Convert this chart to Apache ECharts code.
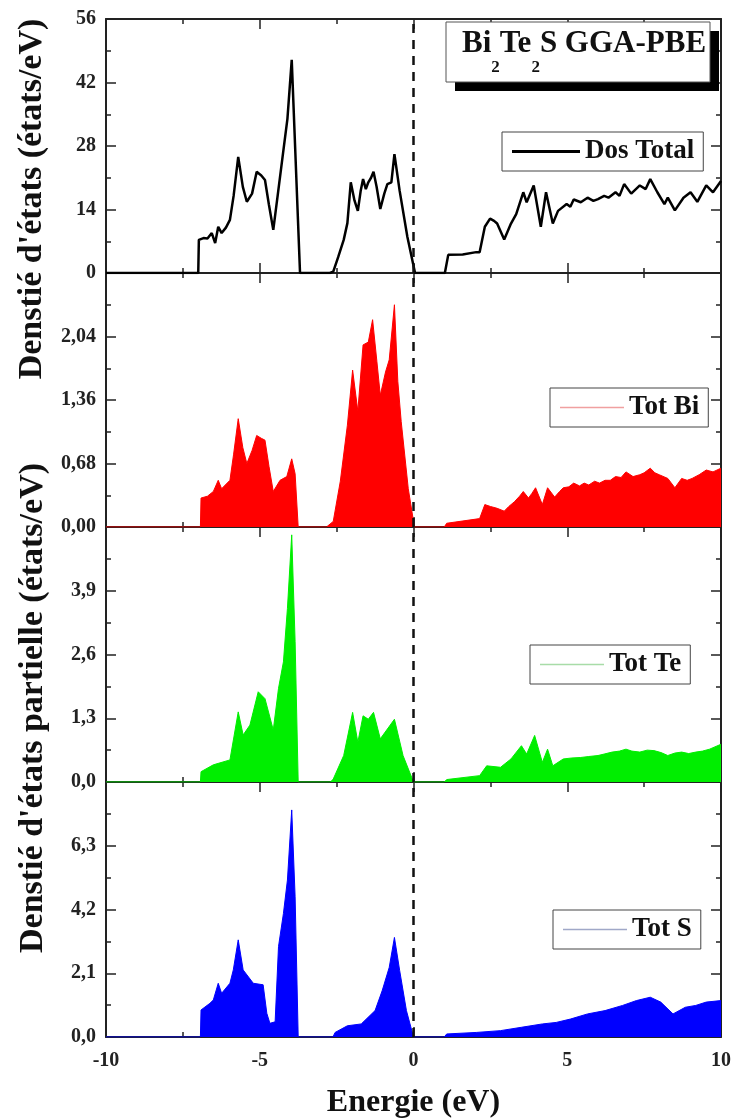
<!DOCTYPE html>
<html>
<head>
<meta charset="utf-8">
<script src="https://cdn.jsdelivr.net/npm/echarts@6/dist/echarts.min.js"></script>
<style>
html,body{margin:0;padding:0;background:#fff;}
#chart{width:735px;height:1120px;}
</style>
</head>
<body>
<div id="chart"></div>
<script>
// ---------- DATA (energy in eV, density of states) ----------
const dosTotal = [[-10,0],[-7.0,0],[-6.98,7.3],[-6.83,7.7],[-6.7,7.6],[-6.56,8.8],[-6.45,6.6],[-6.35,10.2],[-6.24,8.8],[-6.1,10.0],[-5.97,11.7],[-5.85,17],[-5.70,25.6],[-5.55,19],[-5.42,15.7],[-5.25,17.5],[-5.10,22.3],[-4.95,21.5],[-4.83,20.5],[-4.7,15],[-4.56,9.5],[-4.4,18],[-4.23,27.1],[-4.1,34],[-3.96,47],[-3.69,0],[-2.72,0],[-2.61,0.3],[-2.45,3.5],[-2.27,7.3],[-2.15,11],[-2.04,20],[-1.92,16],[-1.81,13.7],[-1.72,18],[-1.64,20.7],[-1.55,18.5],[-1.47,20],[-1.38,21],[-1.30,22.3],[-1.2,19],[-1.08,14.1],[-0.95,17.5],[-0.85,19.6],[-0.72,20],[-0.62,26.2],[-0.45,18.1],[-0.2,8],[0.05,0],[1.02,0],[1.13,4.0],[1.6,4.1],[2.04,4.6],[2.15,4.6],[2.32,10.2],[2.49,12],[2.62,11.5],[2.72,10.9],[2.95,7.4],[3.17,10.9],[3.34,13.0],[3.57,17.8],[3.68,15.6],[3.91,19.3],[4.14,10.2],[4.31,17.8],[4.53,10.9],[4.70,13.7],[4.98,15.2],[5.1,14.6],[5.21,16.2],[5.44,15.6],[5.66,16.6],[5.85,15.9],[6.00,16.3],[6.2,17.0],[6.34,16.6],[6.57,17.8],[6.7,17.0],[6.85,19.6],[7.08,17.5],[7.36,19.3],[7.55,18.5],[7.70,20.7],[7.93,17.8],[8.16,15.2],[8.27,16.6],[8.50,13.8],[8.78,16.6],[9.01,17.8],[9.23,15.7],[9.52,19.3],[9.74,17.8],[10.0,20.3]];

const totBi = [[-10,0],[-6.93,0],[-6.91,0.31],[-6.7,0.33],[-6.51,0.38],[-6.35,0.50],[-6.24,0.41],[-5.97,0.50],[-5.85,0.78],[-5.70,1.16],[-5.55,0.85],[-5.42,0.68],[-5.25,0.82],[-5.10,0.98],[-4.95,0.95],[-4.83,0.93],[-4.7,0.65],[-4.56,0.38],[-4.34,0.50],[-4.12,0.54],[-3.96,0.73],[-3.85,0.57],[-3.75,0],[-2.83,0],[-2.61,0.06],[-2.38,0.49],[-2.15,1.09],[-1.98,1.68],[-1.81,1.24],[-1.64,1.95],[-1.47,1.98],[-1.33,2.22],[-1.19,1.77],[-1.08,1.41],[-0.91,1.66],[-0.79,1.79],[-0.62,2.38],[-0.51,1.56],[-0.40,1.13],[-0.17,0.41],[0.03,0],[1.0,0],[1.08,0.04],[2.15,0.09],[2.32,0.24],[2.5,0.22],[2.72,0.20],[2.95,0.17],[3.1,0.22],[3.28,0.27],[3.45,0.33],[3.57,0.38],[3.74,0.31],[3.85,0.36],[3.97,0.42],[4.19,0.24],[4.36,0.42],[4.59,0.32],[4.75,0.38],[4.87,0.42],[5.05,0.43],[5.21,0.47],[5.4,0.44],[5.55,0.47],[5.7,0.45],[5.89,0.49],[6.05,0.47],[6.23,0.50],[6.4,0.50],[6.57,0.54],[6.75,0.53],[6.91,0.59],[7.14,0.54],[7.36,0.56],[7.5,0.58],[7.70,0.63],[7.85,0.58],[7.99,0.56],[8.27,0.52],[8.50,0.42],[8.72,0.52],[8.9,0.50],[9.06,0.52],[9.29,0.56],[9.52,0.61],[9.74,0.59],[10,0.63]];

const totTe = [[-10,0],[-6.93,0],[-6.91,0.21],[-6.51,0.35],[-5.97,0.45],[-5.70,1.43],[-5.54,0.96],[-5.32,1.16],[-5.05,1.84],[-4.83,1.70],[-4.56,1.06],[-4.39,1.91],[-4.23,2.45],[-4.10,3.54],[-3.96,5.04],[-3.85,2.86],[-3.75,0],[-2.7,0],[-2.61,0.06],[-2.27,0.54],[-1.98,1.42],[-1.81,0.81],[-1.64,1.35],[-1.47,1.28],[-1.30,1.42],[-1.08,0.88],[-0.85,1.08],[-0.62,1.28],[-0.34,0.54],[0.0,0],[1.0,0],[1.08,0.05],[2.15,0.13],[2.38,0.33],[2.83,0.30],[3.17,0.47],[3.51,0.74],[3.68,0.57],[3.94,0.95],[4.19,0.40],[4.36,0.67],[4.53,0.33],[4.87,0.47],[5.15,0.49],[5.44,0.50],[5.7,0.52],[6.00,0.54],[6.2,0.57],[6.46,0.61],[6.7,0.63],[6.91,0.67],[7.1,0.63],[7.36,0.61],[7.6,0.65],[7.82,0.64],[8.05,0.60],[8.27,0.54],[8.5,0.59],[8.72,0.61],[8.95,0.58],[9.18,0.61],[9.4,0.63],[9.63,0.67],[10,0.77]];

const totS = [[-10,0],[-6.93,0],[-6.91,0.89],[-6.62,1.11],[-6.51,1.22],[-6.35,1.77],[-6.24,1.44],[-5.97,1.77],[-5.86,2.21],[-5.70,3.2],[-5.54,2.21],[-5.21,1.77],[-4.89,1.72],[-4.77,0.78],[-4.67,0.45],[-4.50,0.5],[-4.39,2.98],[-4.23,4.07],[-4.10,5.17],[-3.96,7.48],[-3.85,4.62],[-3.75,0],[-2.62,0],[-2.55,0.15],[-2.15,0.37],[-1.70,0.43],[-1.25,0.87],[-1.02,1.52],[-0.79,2.29],[-0.62,3.28],[-0.45,2.19],[-0.23,0.87],[0.0,0],[1.0,0],[1.08,0.10],[2.04,0.15],[2.83,0.21],[3.51,0.32],[4.19,0.43],[4.64,0.48],[5.10,0.59],[5.66,0.76],[6.23,0.87],[6.80,1.04],[7.25,1.20],[7.70,1.31],[8.04,1.15],[8.44,0.76],[8.84,0.98],[9.18,1.04],[9.52,1.15],[10,1.20]];

const seriesNames = ['Dos Total','Tot Bi','Tot Te','Tot S'];
const seriesColors = ['#000000','#ff0000','#00ee00','#0000ff'];
const legendLineColors = ['#000000','#f0a0a0','#a8dca8','#a0a8c8'];
const yMaxes = [56, 2.72, 5.2, 8.4];
const ySteps = [14, 0.68, 1.3, 2.1];
const yDecimals = [0, 2, 1, 1];
const xMin = -10, xMax = 10, xStep = 5;
const xTitle = 'Energie (eV)';
const yTitleTop = "Denstié d'états (états/eV)";
const yTitleBottom = "Denstié d'états partielle (états/eV)";
const boxTitleRich = '{n|Bi}{s|2}{n|Te}{s|2}{n|S GGA-PBE}';

// ---------- LAYOUT ----------
const FONT = "'Liberation Serif','Times New Roman',serif";
const AX = '#222';
const tops = [19, 273, 527, 782];
const heights = [254, 254, 255, 255];
const legendPos = [[502,132],[550,388],[530,645],[553,910]];

const allData = [dosTotal, totBi, totTe, totS];

const grids = tops.map((t, i) => ({left: 106, right: 14, top: t, height: heights[i]}));
const xAxes = [], yAxes = [];
const tickCommon = {show: true, inside: true, length: 10, lineStyle: {color: AX, width: 1.5}};
const minorCommon = {show: true, splitNumber: 2, length: 5, lineStyle: {color: AX, width: 1.5}};
const lineCommon = {show: true, onZero: false, lineStyle: {color: AX, width: 2}};
for (let i = 0; i < 4; i++) {
  xAxes.push({
    type: 'value', gridIndex: i, min: xMin, max: xMax, interval: xStep, position: 'bottom',
    axisLine: lineCommon, axisTick: tickCommon, minorTick: minorCommon, splitLine: {show: false},
    axisLabel: {show: i === 3, margin: 14, color: '#222', fontFamily: FONT, fontWeight: 'bold', fontSize: 20},
    name: i === 3 ? xTitle : '', nameLocation: 'middle', nameGap: 50,
    nameTextStyle: {fontFamily: FONT, fontWeight: 'bold', fontSize: 32, color: '#111'}
  });
  xAxes.push({
    type: 'value', gridIndex: i, min: xMin, max: xMax, interval: xStep, position: 'top',
    axisLine: lineCommon, axisTick: tickCommon, minorTick: minorCommon, splitLine: {show: false},
    axisLabel: {show: false}
  });
  const dec = yDecimals[i];
  yAxes.push({
    type: 'value', gridIndex: i, min: 0, max: yMaxes[i], interval: ySteps[i], position: 'left',
    axisLine: lineCommon, axisTick: tickCommon, minorTick: minorCommon, splitLine: {show: false},
    axisLabel: {show: true, margin: 10, color: '#222', fontFamily: FONT, fontWeight: 'bold', fontSize: 20,
      showMaxLabel: i === 0, showMinLabel: true,
      formatter: v => v.toFixed(dec).replace('.', ',')}
  });
  yAxes.push({
    type: 'value', gridIndex: i, min: 0, max: yMaxes[i], interval: ySteps[i], position: 'right',
    axisLine: lineCommon, axisTick: tickCommon, minorTick: minorCommon, splitLine: {show: false},
    axisLabel: {show: false}
  });
}

const series = allData.map((d, i) => ({
  type: 'line', name: seriesNames[i], xAxisIndex: 2 * i, yAxisIndex: 2 * i,
  data: d, symbol: 'none', showSymbol: false, animation: false,
  lineStyle: {color: seriesColors[i], width: i === 0 ? 2.5 : 1},
  itemStyle: {color: seriesColors[i]},
  areaStyle: i === 0 ? undefined : {color: seriesColors[i], opacity: 1},
  z: 2,
  markLine: {silent: true, symbol: 'none', animation: false, label: {show: false},
    lineStyle: {type: [9, 7], color: '#111', width: 2.5}, data: [{xAxis: 0}]}
}));

const legends = seriesNames.map((n, i) => ({
  data: [{name: n, itemStyle: {color: legendLineColors[i]}}],
  left: legendPos[i][0], top: legendPos[i][1],
  orient: 'horizontal', icon: 'rect', itemWidth: i === 0 ? 68 : 64, itemHeight: i === 0 ? 3 : 1.5,
  padding: [6, 9, 6, 10], borderColor: '#444', borderWidth: 1, backgroundColor: '#fff',
  selectedMode: false,
  textStyle: {fontFamily: FONT, fontWeight: 'bold', fontSize: 27, color: '#111'}
}));

const option = {
  animation: false,
  backgroundColor: '#fff',
  grid: grids,
  xAxis: xAxes,
  yAxis: yAxes,
  legend: legends,
  series: series,
  graphic: [
    {type: 'rect', x: 455, y: 31, z: 100, shape: {width: 264, height: 60}, style: {fill: '#000'}},
    {type: 'rect', x: 446, y: 22, z: 101, shape: {width: 264, height: 60}, style: {fill: '#fff', stroke: '#555', lineWidth: 1}},
    {type: 'text', x: 462, y: 28, z: 102, style: {
      text: boxTitleRich, fill: '#111',
      rich: {
        n: {fontFamily: FONT, fontWeight: 'bold', fontSize: 31, lineHeight: 36, verticalAlign: 'top', fill: '#111'},
        s: {fontFamily: FONT, fontWeight: 'bold', fontSize: 17, lineHeight: 12, padding: [31, 0, 0, 0], verticalAlign: 'top', fill: '#111'}
      }
    }},
    {type: 'text', x: 32, y: 199, rotation: Math.PI / 2, z: 100, style: {
      text: yTitleTop, fontFamily: FONT, fontWeight: 'bold', fontSize: 34, fill: '#111', align: 'center', verticalAlign: 'middle'}},
    {type: 'text', x: 33, y: 708, rotation: Math.PI / 2, z: 100, style: {
      text: yTitleBottom, fontFamily: FONT, fontWeight: 'bold', fontSize: 34, fill: '#111', align: 'center', verticalAlign: 'middle'}}
  ]
};

const chart = echarts.init(document.getElementById('chart'), null, {renderer: 'canvas'});
chart.setOption(option);
</script>
</body>
</html>
